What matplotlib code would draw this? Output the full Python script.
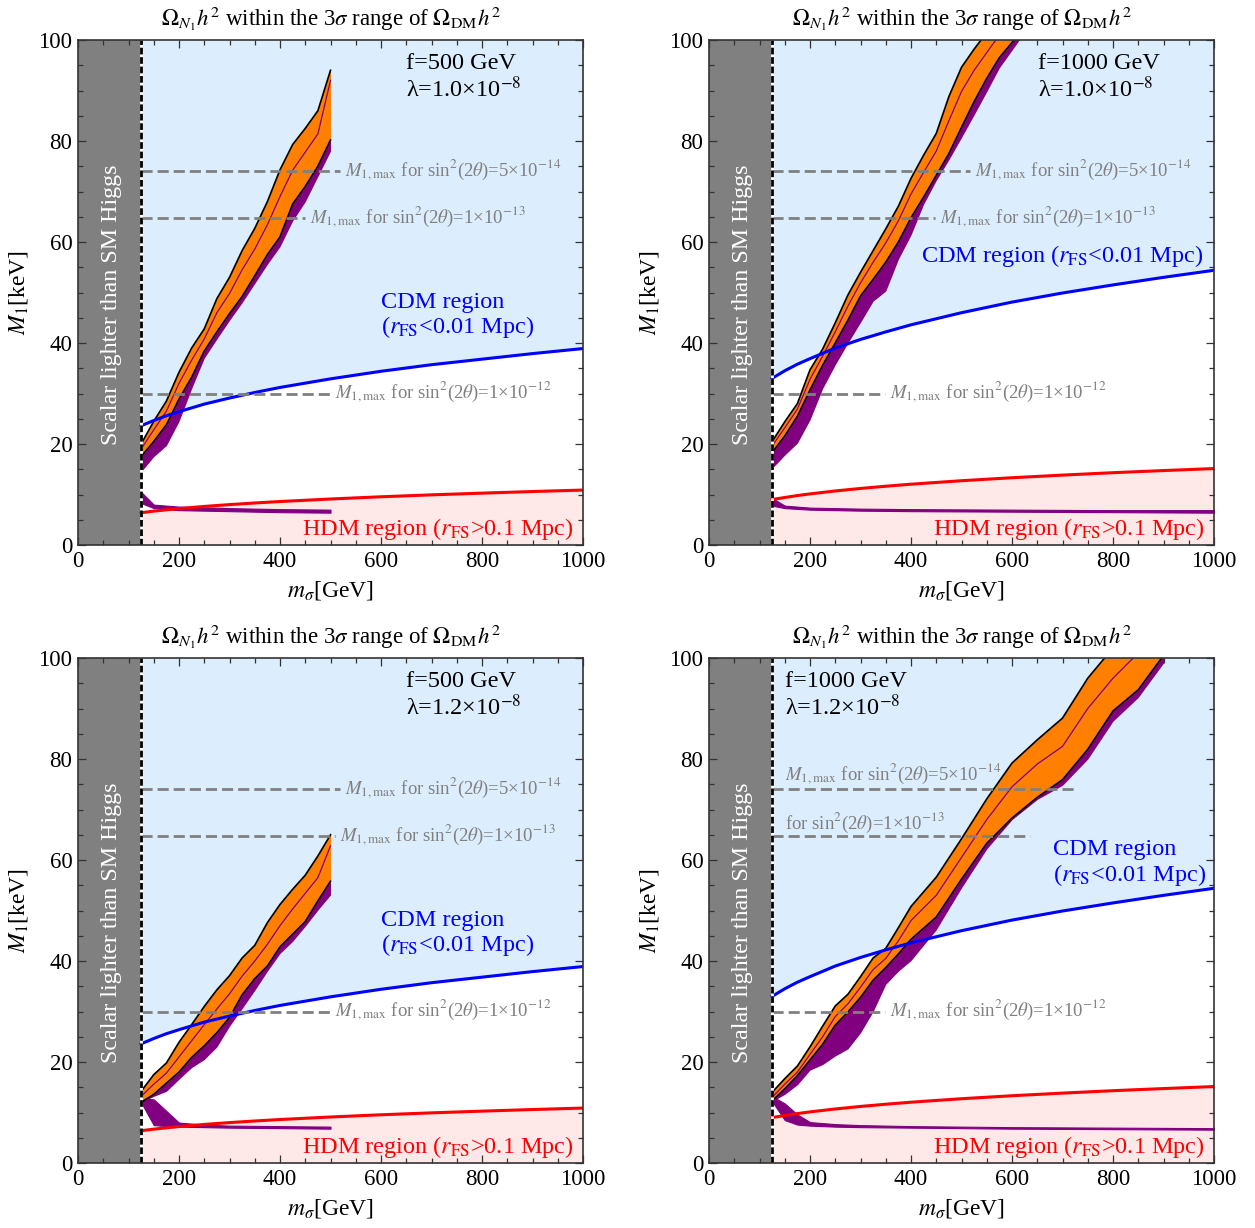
import matplotlib
matplotlib.use("Agg")
import matplotlib.pyplot as plt
from matplotlib.ticker import MultipleLocator

plt.rcParams['font.family'] = ['Liberation Serif', 'DejaVu Serif']
plt.rcParams['mathtext.fontset'] = 'stix'

# ---------------- data ----------------
panel_f = ["500", "1000", "500", "1000"]
panel_lam = ["1.0", "1.0", "1.2", "1.2"]

# free-streaming boundary curves (x grid shared)
m_curve = [125, 150, 175, 200, 250, 300, 350, 400, 500, 600, 700, 800, 900, 1000]
cdm_f500 = [23.6, 24.65, 25.6, 26.4, 27.9, 29.1, 30.2, 31.2, 32.9, 34.4, 35.7, 36.8, 37.9, 38.9]
hdm_f500 = [6.4, 6.70, 6.97, 7.21, 7.64, 8.0, 8.32, 8.61, 9.11, 9.55, 9.93, 10.27, 10.59, 10.88]
cdm_f1000 = [33.0, 34.5, 35.8, 36.9, 39.0, 40.7, 42.2, 43.6, 46.0, 48.1, 49.9, 51.5, 53.0, 54.4]
hdm_f1000 = [9.0, 9.41, 9.79, 10.12, 10.70, 11.2, 11.64, 12.04, 12.73, 13.32, 13.84, 14.32, 14.74, 15.14]

# relic-abundance bands
m_tl = [125, 150, 175, 200, 225, 250, 275, 300, 325, 350, 375, 400, 425, 450, 475, 500]
up_tl = [20.0, 24.5, 28.5, 34.2, 39.0, 42.8, 48.8, 53.0, 58.3, 62.7, 68.0, 74.3, 79.3, 82.5, 86.0, 94.0]
lo_tl = [17.5, 20.5, 23.8, 28.9, 33.2, 38.4, 42.2, 45.8, 49.2, 53.3, 57.5, 61.0, 67.5, 71.0, 75.0, 80.2]
mid_tl = [19.0, 22.8, 26.5, 32.0, 36.6, 40.8, 46.0, 49.8, 54.5, 58.6, 63.4, 69.0, 74.2, 77.8, 81.4, 92.0]
pu_tl = [14.5, 17.5, 19.7, 24.5, 31.0, 37.0, 40.8, 44.5, 48.0, 51.8, 55.6, 59.1, 64.2, 68.0, 73.0, 78.0]

m_tr = [125, 150, 175, 200, 225, 250, 275, 300, 325, 350, 375, 400, 425, 450, 475, 500, 525, 550, 575, 600, 625]
up_tr = [20.5, 24.4, 28.0, 34.7, 38.8, 44.0, 49.5, 54.0, 58.3, 62.6, 67.1, 72.6, 77.2, 81.5, 88.8, 94.6, 98.2, 101.5, 105.0, 108.0, 112.0]
lo_tr = [18.3, 21.6, 25.5, 30.7, 35.6, 40.0, 44.5, 49.3, 52.6, 56.0, 60.0, 64.8, 68.9, 73.2, 77.5, 82.7, 87.8, 92.4, 96.5, 99.5, 102.5]
mid_tr = [19.6, 23.2, 26.9, 32.8, 37.4, 42.2, 47.3, 51.9, 56.0, 59.8, 64.2, 69.5, 73.8, 78.0, 84.0, 89.8, 94.0, 97.5, 101.0, 104.0, 107.0]
pu_tr = [15.2, 17.8, 20.2, 24.8, 31.0, 35.7, 40.0, 44.1, 48.3, 50.3, 56.6, 61.4, 67.5, 72.2, 76.3, 80.7, 85.2, 89.8, 94.5, 98.0, 101.5]

m_bl = [125, 150, 175, 200, 225, 250, 275, 300, 325, 350, 375, 400, 425, 450, 475, 500]
up_bl = [14.2, 17.5, 19.8, 23.9, 27.4, 31.0, 34.3, 37.1, 40.6, 43.1, 47.6, 51.2, 54.2, 57.0, 60.8, 65.0]
lo_bl = [12.0, 13.6, 15.8, 18.0, 20.9, 23.2, 25.8, 28.8, 33.3, 36.5, 39.0, 42.8, 45.3, 47.8, 51.9, 55.8]
mid_bl = [13.2, 15.6, 17.8, 21.0, 24.2, 27.4, 30.5, 33.5, 37.0, 40.0, 43.3, 47.0, 50.3, 53.4, 56.5, 62.8]
pu_bl = [12.0, 13.2, 14.2, 16.6, 18.9, 20.5, 23.0, 27.1, 30.6, 34.2, 38.0, 41.5, 43.9, 46.9, 50.1, 53.1]

m_br = [125, 150, 175, 200, 225, 250, 275, 300, 325, 350, 375, 400, 450, 500, 550, 600, 650, 700, 750, 800, 850, 900]
up_br = [14.0, 16.7, 19.2, 23.0, 27.1, 31.1, 33.4, 36.9, 40.6, 42.5, 46.6, 50.8, 56.6, 64.2, 72.1, 79.2, 83.8, 88.1, 96.0, 102.0, 108.0, 114.0]
lo_br = [12.3, 14.7, 17.3, 20.4, 23.5, 27.3, 29.9, 32.8, 36.2, 38.7, 41.4, 44.3, 48.7, 56.2, 63.3, 68.3, 72.4, 75.9, 81.9, 89.5, 93.7, 100.5]
mid_br = [13.0, 15.6, 18.0, 21.5, 25.0, 29.0, 31.5, 34.8, 38.3, 40.5, 44.0, 48.0, 53.0, 60.5, 68.0, 74.5, 79.0, 82.5, 90.0, 96.0, 101.0, 107.0]
pu_br = [12.2, 13.6, 15.5, 18.4, 19.5, 21.2, 22.6, 25.8, 30.0, 35.4, 38.0, 40.1, 46.2, 54.5, 62.2, 68.0, 72.0, 74.8, 80.0, 87.5, 92.2, 99.0]

# low-mass purple branch
m_low_tl = [125, 150, 200, 300, 400, 500]
low_up_tl = [10.5, 8.0, 7.6, 7.3, 7.1, 7.0]
low_lo_tl = [8.3, 7.3, 6.9, 6.7, 6.5, 6.4]
m_low_tr = [125, 150, 200, 300, 400, 600, 800, 1000]
low_up_tr = [9.3, 7.8, 7.4, 7.2, 7.1, 7.0, 6.9, 6.9]
low_lo_tr = [7.8, 7.3, 7.0, 6.8, 6.7, 6.6, 6.5, 6.4]
m_low_bl = [125, 150, 175, 200, 250, 300, 400, 500]
low_up_bl = [12.8, 12.6, 10.3, 8.0, 7.6, 7.4, 7.3, 7.2]
low_lo_bl = [12.0, 7.5, 7.3, 7.2, 7.1, 7.0, 6.9, 6.8]
m_low_br = [125, 150, 175, 200, 250, 300, 400, 600, 800, 1000]
low_up_br = [13.2, 11.8, 9.6, 8.1, 7.7, 7.5, 7.3, 7.1, 7.0, 6.9]
low_lo_br = [12.2, 8.5, 7.6, 7.4, 7.2, 7.1, 7.0, 6.8, 6.7, 6.6]

# M1,max lines from X-ray bounds
m1max_vals = [74.0, 64.7, 30.0]
sin2_labels = ["5×10$^{-14}$", "1×10$^{-13}$", "1×10$^{-12}$"]

m_higgs = 125

# ---------------- style ----------------
C_GRAY = '#808080'
C_CDM = '#dcedfd'
C_HDM = '#ffe8e8'
C_OR = '#ff8000'
C_PU = '#800080'

fig = plt.figure(figsize=(12.55, 12.28), dpi=100)
W, H = 1255.0, 1228.0
boxes = [(78, 40), (709, 40), (78, 658), (709, 658)]
aw, ah = 505.0, 505.0

bands = [(m_tl, up_tl, lo_tl, mid_tl, pu_tl),
         (m_tr, up_tr, lo_tr, mid_tr, pu_tr),
         (m_bl, up_bl, lo_bl, mid_bl, pu_bl),
         (m_br, up_br, lo_br, mid_br, pu_br)]
lows = [(m_low_tl, low_up_tl, low_lo_tl), (m_low_tr, low_up_tr, low_lo_tr),
        (m_low_bl, low_up_bl, low_lo_bl), (m_low_br, low_up_br, low_lo_br)]
curves = [(cdm_f500, hdm_f500), (cdm_f1000, hdm_f1000),
          (cdm_f500, hdm_f500), (cdm_f1000, hdm_f1000)]
# dashed-line end points (GeV) per panel
dash_end = [(519, 450, 499), (517, 448, 349), (519, 509, 499), (725, 636, 349)]

FS = 16.5
FA = 17.5
for i in range(4):
    x0, y0 = boxes[i]
    ax = fig.add_axes([x0 / W, 1 - (y0 + ah) / H, aw / W, ah / H])
    ax.set_xlim(0, 1000)
    ax.set_ylim(0, 100)
    cdm, hdm = curves[i]
    ax.axvspan(0, m_higgs, color=C_GRAY, lw=0, zorder=0)
    ax.fill_between(m_curve, cdm, 100, color=C_CDM, lw=0, zorder=0.5)
    ax.fill_between(m_curve, 0, hdm, color=C_HDM, lw=0, zorder=0.5)
    ax.plot(m_curve, cdm, color='#0000ff', lw=2.2, zorder=3)
    ax.plot(m_curve, hdm, color='#ff0000', lw=2.2, zorder=3)

    mm, up, lo, mid, pu = bands[i]
    ax.fill_between(mm, pu, up, color=C_PU, lw=0, zorder=2)
    ax.fill_between(mm, lo, up, color=C_OR, lw=0, zorder=2.1)
    ax.plot(mm, up, color='k', lw=1.2, zorder=2.3)
    ax.plot(mm, lo, color='k', lw=1.2, zorder=2.3)
    ax.plot(mm, mid, color=C_PU, lw=0.9, zorder=2.2)
    ml, lu, ll = lows[i]
    ax.fill_between(ml, ll, lu, color=C_PU, lw=0.8, edgecolor=C_PU, zorder=2)

    # M1,max dashed lines
    for k in range(3):
        ax.plot([m_higgs, dash_end[i][k]], [m1max_vals[k]] * 2, color=C_GRAY,
                lw=2.0, ls=(0, (4, 1.8)), zorder=4)
    lab_fs = 13.5
    if i < 3:
        for k in range(3):
            ax.text(dash_end[i][k] + 10, m1max_vals[k] + 0.2,
                    r"$M_{1,\rm max}$ for sin$^2$(2$\theta$)=" + sin2_labels[k],
                    color=C_GRAY, fontsize=lab_fs, ha='left', va='center', zorder=5)
    else:
        ax.text(150, m1max_vals[0] + 3.0,
                r"$M_{1,\rm max}$ for sin$^2$(2$\theta$)=" + sin2_labels[0],
                color=C_GRAY, fontsize=lab_fs, ha='left', va='center', zorder=5)
        ax.text(150, m1max_vals[1] + 2.6,
                r"for sin$^2$(2$\theta$)=" + sin2_labels[1],
                color=C_GRAY, fontsize=lab_fs, ha='left', va='center', zorder=5)
        ax.text(dash_end[i][2] + 10, m1max_vals[2] + 0.2,
                r"$M_{1,\rm max}$ for sin$^2$(2$\theta$)=" + sin2_labels[2],
                color=C_GRAY, fontsize=lab_fs, ha='left', va='center', zorder=5)

    # Higgs mass boundary
    ax.axvline(m_higgs, color='white', lw=2.0, zorder=6)
    ax.axvline(m_higgs, color='black', lw=2.0, ls=(0, (2.4, 1.0)), zorder=6.1)
    ax.text(67, 47.5, "Scalar lighter than SM Higgs", color='white', rotation=90,
            fontsize=17.3, ha='center', va='center', zorder=7)

    # parameter labels
    if i == 3:
        px, py = 150, 95.3
    elif i == 1:
        px, py = 651, 95.3
    else:
        px, py = 650, 95.3
    ax.text(px, py, "f=%s GeV" % panel_f[i], fontsize=FA, ha='left', va='center', zorder=7)
    ax.text(px, py - 5.0, "λ=%s×10$^{-8}$" % panel_lam[i], fontsize=FA, ha='left',
            va='center', zorder=7)

    # region labels
    if i == 1:
        ax.text(420, 57.2, r"CDM region ($r_{\rm FS}$<0.01 Mpc)", color='#0000ff',
                fontsize=FA, ha='left', va='center', zorder=7)
    elif i == 3:
        ax.text(681, 62.0, "CDM region", color='#0000ff', fontsize=FA, ha='left',
                va='center', zorder=7)
        ax.text(681, 57.0, r"($r_{\rm FS}$<0.01 Mpc)", color='#0000ff', fontsize=FA,
                ha='left', va='center', zorder=7)
    else:
        ax.text(600, 48.1, "CDM region", color='#0000ff', fontsize=FA, ha='left',
                va='center', zorder=7)
        ax.text(600, 43.2, r"($r_{\rm FS}$<0.01 Mpc)", color='#0000ff', fontsize=FA,
                ha='left', va='center', zorder=7)
    ax.text(982, 3.2, r"HDM region ($r_{\rm FS}$>0.1 Mpc)", color='#ff0000',
            fontsize=FA, ha='right', va='center', zorder=7)

    ax.set_title(r"$\Omega_{N_1}h^2$ within the 3$\sigma$ range of $\Omega_{\rm DM}h^2$",
                 fontsize=16.5, pad=10)
    ax.set_xlabel(r"$m_\sigma$[GeV]", fontsize=17, labelpad=5)
    ax.set_ylabel(r"$M_1$[keV]", fontsize=17, labelpad=6)

    ax.xaxis.set_major_locator(MultipleLocator(200))
    ax.xaxis.set_minor_locator(MultipleLocator(50))
    ax.yaxis.set_major_locator(MultipleLocator(20))
    ax.yaxis.set_minor_locator(MultipleLocator(5))
    ax.tick_params(which='both', direction='in', top=True, right=True, labelsize=FS,
                   color='#333333', width=0.9, zorder=8)
    ax.tick_params(which='major', length=6, pad=4)
    ax.tick_params(which='minor', length=3.5)
    for sp in ax.spines.values():
        sp.set_color('#333333')
        sp.set_linewidth(1.2)
        sp.set_zorder(9)

fig.savefig("out.png", dpi=100)
